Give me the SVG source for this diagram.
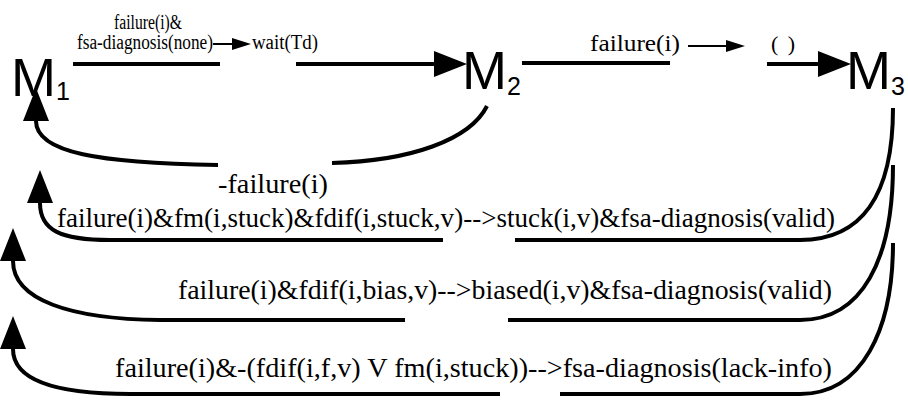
<svg xmlns="http://www.w3.org/2000/svg" width="908" height="403" viewBox="0 0 908 403">
<style>
.bg{fill:#fff}
.edge{fill:none;stroke:#000;stroke-width:4;stroke-linecap:butt}
.thin{fill:none;stroke:#000;stroke-width:2}
.lbl{font-family:"Liberation Serif","Times New Roman",serif;fill:#000}
.node{font-family:"Liberation Sans",Arial,sans-serif;fill:#000;font-size:54px}
.sub{font-size:25px}
</style>
<defs>
<marker id="ah" markerWidth="35" markerHeight="27" refX="0" refY="13" orient="auto" markerUnits="userSpaceOnUse"><path d="M0,0 L33,13 L0,26 z" fill="#000"/></marker>
<marker id="sh" markerWidth="22" markerHeight="14" refX="0" refY="6" orient="auto" markerUnits="userSpaceOnUse"><path d="M0,0 L19,6 L0,12 z" fill="#000"/></marker>
</defs>
<rect class="bg" x="0" y="0" width="908" height="403"/>
<g id="M1">
<text class="node" x="11" y="96">M<tspan class="sub" dy="4">1</tspan></text>
</g>
<g id="M2">
<text class="node" x="462" y="89">M<tspan class="sub" dy="6">2</tspan></text>
</g>
<g id="M3">
<text class="node" x="846" y="89">M<tspan class="sub" dy="6">3</tspan></text>
</g>
<g id="connectors">
<path class="edge" d="M73 64 L220 64"/>
<path class="edge" d="M296 64 L434 64" marker-end="url(#ah)"/>
<path class="thin" d="M213 44 L232 44" marker-end="url(#sh)"/>
<path class="edge" d="M522 63 L670 63"/>
<path class="thin" d="M688 46 L726 46" marker-end="url(#sh)"/>
<path class="edge" d="M767 64 L818 64" marker-end="url(#ah)"/>
<path class="edge" d="M218 165 C100 163 36 153 36 121" marker-end="url(#ah)"/>
<path class="edge" d="M332 163 C410 161 470 140 487 106"/>
<path class="edge" d="M443 240 L110 240 C60 240 40 230 40 203" marker-end="url(#ah)"/>
<path class="edge" d="M515 240 L800 240 C862 240 893 195 893 108"/>
<path class="edge" d="M405 320 L160 320 C70 319 13 300 13 261" marker-end="url(#ah)"/>
<path class="edge" d="M508 320 L800 320 C862 320 893 260 893 165"/>
<path class="edge" d="M500 394 L130 394 C55 394 13 380 13 349" marker-end="url(#ah)"/>
<path class="edge" d="M560 394 L800 394 C862 394 893 330 893 243"/>
</g>
<g id="labels">
<text class="lbl" x="114" y="29" font-size="20" textLength="68" lengthAdjust="spacingAndGlyphs">failure(i)&amp;</text>
<text class="lbl" x="77" y="49" font-size="20" textLength="136" lengthAdjust="spacingAndGlyphs">fsa-diagnosis(none)</text>
<text class="lbl" x="252" y="49" font-size="20" textLength="66" lengthAdjust="spacingAndGlyphs">wait(Td)</text>
<text class="lbl" x="590" y="51" font-size="23" textLength="90" lengthAdjust="spacingAndGlyphs">failure(i)</text>
<text class="lbl" x="771" y="51" font-size="22" textLength="24" lengthAdjust="spacing">( )</text>
<text class="lbl" x="218" y="193" font-size="27" textLength="110" lengthAdjust="spacingAndGlyphs">-failure(i)</text>
<text class="lbl" x="57" y="227" font-size="27" textLength="778" lengthAdjust="spacingAndGlyphs">failure(i)&amp;fm(i,stuck)&amp;fdif(i,stuck,v)--&gt;stuck(i,v)&amp;fsa-diagnosis(valid)</text>
<text class="lbl" x="178" y="299" font-size="27" textLength="654" lengthAdjust="spacingAndGlyphs">failure(i)&amp;fdif(i,bias,v)--&gt;biased(i,v)&amp;fsa-diagnosis(valid)</text>
<text class="lbl" x="115" y="377" font-size="27" textLength="717" lengthAdjust="spacingAndGlyphs">failure(i)&amp;-(fdif(i,f,v) V fm(i,stuck))--&gt;fsa-diagnosis(lack-info)</text>
</g>
</svg>
